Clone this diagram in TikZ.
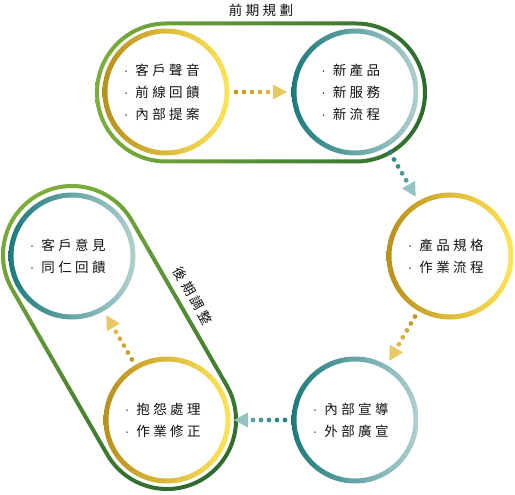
\documentclass[tikz,border=0pt]{standalone}
\usepackage{fontspec}
\newfontfamily\cjk[LetterSpace=25]{Noto Sans CJK TC}
\newfontfamily\dv{DejaVu Sans}
\usetikzlibrary{calc}
\definecolor{goldD}{HTML}{B8901C}
\definecolor{goldL}{HTML}{FFE55A}
\definecolor{tealD}{HTML}{1C7A7C}
\definecolor{tealL}{HTML}{B2D0D0}
\definecolor{greenL}{HTML}{7DAE3C}
\definecolor{greenD}{HTML}{2C6B2E}
\definecolor{txt}{HTML}{111111}
\definecolor{gdotA}{HTML}{C29820}
\definecolor{gdotB}{HTML}{DDB849}
\definecolor{gtip}{HTML}{E8C862}
\definecolor{tdotA}{HTML}{267F81}
\definecolor{tdotB}{HTML}{5A9C9D}
\definecolor{ttip}{HTML}{95C3C3}
\newcommand\li[1]{\makebox[11pt][l]{{\dv\fontsize{11pt}{11pt}\selectfont ·}}#1\kern8pt}
\newcommand\ringg[3]{\shade[even odd rule, left color=#2, right color=#3] (#1) circle (63.5) (#1) circle (58.5);}
\newcommand\stadium[1]{%
  \shade[even odd rule, left color=greenL, right color=greenD]
   (0,-71) -- (#1,-71) arc[start angle=-90,end angle=90,radius=71] -- (0,71) arc[start angle=90,end angle=270,radius=71] -- cycle
   (0,-67) -- (#1,-67) arc[start angle=-90,end angle=90,radius=67] -- (0,67) arc[start angle=90,end angle=270,radius=67] -- cycle;}
\newcommand\darrow[5]{%
  \foreach \k in {0,...,4}{%
    \pgfmathsetmacro\dd{70+8*\k}%
    \pgfmathtruncatemacro\pc{100-25*\k}%
    \fill[#3!\pc!#4] ($(#1)!\dd pt!(#2)$) circle (2.4);}
  \coordinate (tb) at ($(#1)!107pt!(#2)$);
  \coordinate (tt) at ($(#1)!121pt!(#2)$);
  \fill[#5] (tt) -- ($(tb)!7.5pt!90:(#2)$) -- ($(tb)!7.5pt!-90:(#2)$) -- cycle;}
\begin{document}
\begin{tikzpicture}[x=1pt,y=-1pt,
  hub/.style={circle, minimum size=127pt, inner sep=0pt, align=left, text=txt,
    font=\cjk\fontsize{13.5pt}{22pt}\selectfont},
  title/.style={text=txt, inner sep=0pt, font=\cjk\fontsize{13.5pt}{16pt}\selectfont}]
\useasboundingbox (0,0) rectangle (515,495);
% pills
\begin{scope}[transform canvas={shift={(166,92.5)}}]
  \stadium{190}
\end{scope}
\begin{scope}[transform canvas={shift={(72,255)}, rotate=-60.07}]
  \stadium{190.4}
\end{scope}
% hubs
\node[hub] (c1) at (166,92) {\li{客戶聲音}\\\li{前線回饋}\\\li{內部提案}};
\node[hub] (c2) at (355,92) {\li{新產品}\\\li{新服務}\\\li{新流程}};
\node[hub] (c3) at (450,256) {\li{產品規格}\\\li{作業流程}};
\node[hub] (c4) at (355,420) {\li{內部宣導}\\\li{外部廣宣}};
\node[hub] (c5) at (167,420) {\li{抱怨處理}\\\li{作業修正}};
\node[hub] (c6) at (72,256) {\li{客戶意見}\\\li{同仁回饋}};
\ringg{c1.center}{goldD}{goldL}
\ringg{c3.center}{goldD}{goldL}
\ringg{c5.center}{goldD}{goldL}
\ringg{c2.center}{tealD}{tealL}
\ringg{c4.center}{tealD}{tealL}
\ringg{c6.center}{tealD}{tealL}
% connectors
\darrow{c1}{c2}{gdotA}{gdotB}{gtip}
\darrow{c2}{c3}{tdotA}{tdotB}{ttip}
\darrow{c3}{c4}{gdotA}{gdotB}{gtip}
\darrow{c4}{c5}{tdotA}{tdotB}{ttip}
\darrow{c5}{c6}{gdotA}{gdotB}{gtip}
% titles
\node[title] (t1) at (261,10) {前期規劃};
\node[title, rotate=-61] (t2) at (193,296) {後期調整};
\end{tikzpicture}
\end{document}
